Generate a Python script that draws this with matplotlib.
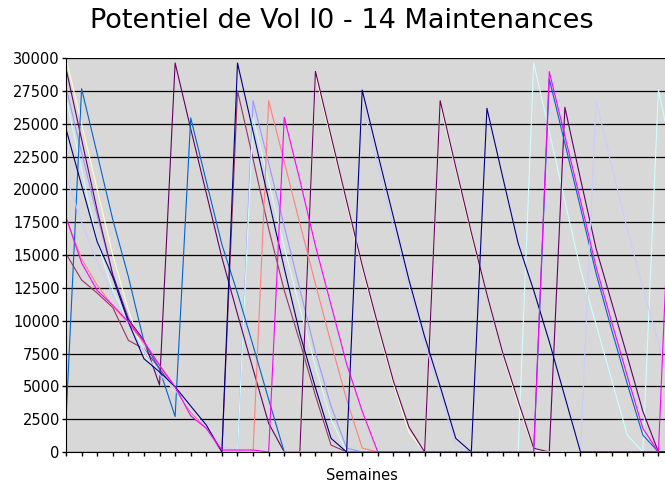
import numpy as np
import matplotlib
matplotlib.use('Agg')
import matplotlib.pyplot as plt

weeks = list(range(40))

lavender = [27770, 22800, 18000, 13500, 10300, 7600, 6000, 4700, 3000, 1700,
            0, 0, 26750, 22000, 17200, 12400, 7600, 3500, 300, 0,
            0, 0, 0, 0, 0, 0, 0, 0, 0, 0,
            0, 0, 0, 0, 0, 0, 0, 0, 0, 0]
mauve = [15100, 13100, 12100, 11000, 8500, 7850, 6360, 4700, 2900, 1800,
         0, 27510, 22300, 17000, 12300, 8400, 4300, 530, 0, 0,
         0, 0, 0, 0, 0, 0, 0, 0, 0, 0,
         0, 0, 0, 0, 0, 0, 0, 0, 0, 0]
cream = [30000, 25000, 20000, 15000, 10800, 7400, 6100, 4800, 3200, 1900,
         0, 0, 0, 0, 0, 0, 28700, 23800, 18900, 14000,
         9500, 5200, 1500, 0, 26500, 21500, 16500, 12000, 7500, 3600,
         200, 0, 0, 0, 0, 0, 0, 0, 0, 0]
cyan = [27000, 21500, 16000, 12300, 9900, 7800, 6000, 4600, 2900, 1700,
        0, 0, 25480, 20600, 15600, 11000, 6500, 2500, 0, 0,
        0, 0, 0, 0, 0, 0, 0, 0, 0, 0,
        29620, 24400, 19100, 13900, 9700, 5500, 1290, 0, 27570, 22000]
purple = [29200, 23800, 18400, 13500, 10100, 8500, 5090, 29620, 24600, 19700,
          14800, 10500, 6300, 2180, 0, 0, 28980, 24050, 19100, 14200,
          9700, 5400, 1900, 0, 26750, 21700, 16700, 12000, 7600, 3900,
          280, 0, 26250, 20800, 15500, 11400, 7300, 3100, 0, 0]
salmon = [17800, 14700, 12700, 11100, 9800, 8300, 6600, 4900, 3000, 1800,
          0, 0, 0, 26750, 22100, 17400, 12800, 8300, 4000, 300,
          0, 0, 0, 0, 0, 0, 0, 0, 0, 0,
          0, 0, 0, 0, 0, 0, 0, 0, 0, 0]
blue = [2400, 27660, 22700, 17700, 13350, 8400, 6300, 2700, 25440, 20600,
        15800, 12100, 8100, 4000, 0, 0, 0, 0, 0, 0,
        0, 0, 0, 0, 0, 0, 0, 0, 0, 0,
        0, 28400, 23500, 18600, 13600, 9300, 5200, 1290, 0, 0]
lavender2 = [21000, 17500, 14500, 12000, 9700, 7600, 5900, 4700, 3200, 1900,
             400, 150, 0, 0, 0, 0, 0, 0, 0, 26500,
             21800, 17100, 12600, 8300, 4500, 500, 0, 0, 0, 0,
             0, 0, 0, 0, 26750, 21800, 17000, 12500, 8300, 4000]
navy = [24600, 20300, 16000, 13300, 9900, 7100, 6100, 4960, 3500, 2050,
        0, 29620, 24400, 19200, 14000, 9000, 4900, 1040, 0, 27560,
        22700, 17900, 13100, 8800, 5000, 1040, 0, 26170, 21000, 15900,
        12300, 8400, 4200, 0, 0, 0, 0, 0, 0, 0]
magenta = [17880, 14400, 12300, 11170, 9900, 8400, 6600, 4960, 2750, 1800,
           150, 150, 150, 0, 25480, 20700, 15700, 11200, 6700, 3100,
           0, 0, 0, 0, 0, 0, 0, 0, 0, 0,
           0, 28960, 24060, 19160, 14100, 9900, 5800, 1800, 0, 28000]

series = [lavender, mauve, cream, cyan, purple, salmon, blue, lavender2, navy, magenta]
colors = ['#9999FF', '#993366', '#FFFFCC', '#CCFFFF', '#660066',
          '#FF8080', '#0066CC', '#CCCCFF', '#000080', '#FF00FF']

fig = plt.figure(figsize=(6.65, 4.88), dpi=100)
ax = fig.add_axes([66/665, 36/488, 599/665, 394/488])
ax.set_facecolor('#d8d8d8')

for s, c in zip(series, colors):
    ax.plot(weeks, s, color=c, linewidth=0.8)

ax.set_xlim(0, 599/15.59)
ax.set_ylim(0, 30000)
ax.set_yticks(np.arange(0, 30001, 2500))
ax.set_xticks(range(0, 39))
ax.set_xticklabels([])
ax.yaxis.grid(True, color='black', linewidth=0.9)
ax.set_axisbelow(True)
ax.tick_params(axis='y', labelsize=10.5, length=3, pad=1.5, width=1)
ax.tick_params(axis='x', length=3, width=1)
for side in ['top', 'right']:
    ax.spines[side].set_visible(False)
ax.spines['left'].set_color('black')
ax.spines['bottom'].set_color('black')

fig.text(342/665, 1 - 21/488, 'Potentiel de Vol I0 - 14 Maintenances',
         ha='center', va='center', fontsize=19.5)
fig.text(362/665, 1 - 476/488, 'Semaines', ha='center', va='center', fontsize=10.5)

fig.savefig('out.png', dpi=100)
